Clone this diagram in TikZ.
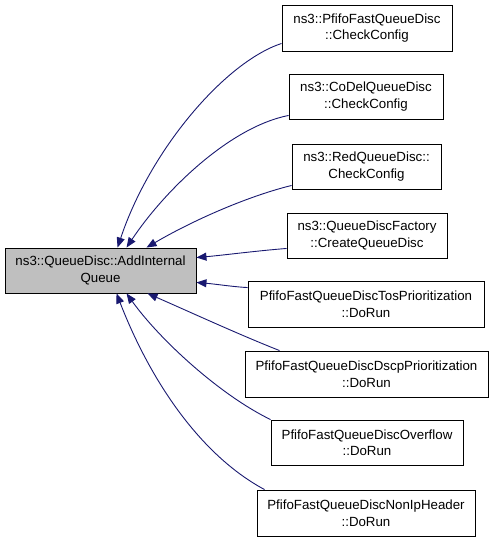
\documentclass[tikz,border=0pt]{standalone}
\usepackage{fontspec}
\setmainfont{Liberation Sans}
\usetikzlibrary{arrows.meta,calc}
\definecolor{edgeblue}{HTML}{191970}
\begin{document}
\begin{tikzpicture}[x=1pt,y=-1pt,
  box/.style={draw=black,line width=0.9pt,fill=white,align=center,inner sep=0pt,
    font=\fontsize{13.3}{16.5}\selectfont},
  mainbox/.style={box,fill=black!25},
  edge/.style={draw=edgeblue,line width=0.9pt,
    -{Triangle[length=10pt,width=8pt]}}]
\useasboundingbox (0,0) rectangle (493,541);
\node[mainbox,minimum width=191pt,minimum height=45pt] (main) at (100.5,270.5) {ns3::QueueDisc::AddInternal\\Queue};
\node[box,minimum width=170pt,minimum height=46pt] (n1) at (367,28) {ns3::PfifoFastQueueDisc\\::CheckConfig};
\node[box,minimum width=154pt,minimum height=45pt] (n2) at (366,96.5) {ns3::CoDelQueueDisc\\::CheckConfig};
\node[box,minimum width=149pt,minimum height=45pt] (n3) at (366.5,166.5) {ns3::RedQueueDisc::\\CheckConfig};
\node[box,minimum width=160pt,minimum height=45pt] (n4) at (367,235.5) {ns3::QueueDiscFactory\\::CreateQueueDisc};
\node[box,minimum width=236pt,minimum height=46pt] (n5) at (366,304) {PfifoFastQueueDiscTosPrioritization\\::DoRun};
\node[box,minimum width=243pt,minimum height=46pt] (n6) at (366.5,374) {PfifoFastQueueDiscDscpPrioritization\\::DoRun};
\node[box,minimum width=192pt,minimum height=45pt] (n7) at (367,442.5) {PfifoFastQueueDiscOverflow\\::DoRun};
\node[box,minimum width=218pt,minimum height=46pt] (n8) at (366,513) {PfifoFastQueueDiscNonIpHeader\\::DoRun};
\draw[edge] ($(n1.south west)+(0,-8)$) .. controls (225,62) and (150,150) .. ($(main.north west)+(113,0)$);
\draw[edge] ($(n2.south west)+(0,-4)$) .. controls (230,127) and (165,190) .. ($(main.north west)+(122,0)$);
\draw[edge] ($(n3.south west)+(0,-4)$) .. controls (245,197) and (190,222) .. ($(main.north west)+(142,0)$);
\draw[edge] ($(n4.south west)+(0,-10)$) .. controls (255,251) and (225,255) .. ($(main.north east)+(0,10)$);
\draw[edge] ($(n5.north west)+(0,7)$) .. controls (235,287) and (215,284) .. ($(main.south east)+(0,-11)$);
\draw[edge] ($(n6.north west)+(35,0)$) .. controls (240,335) and (190,312) .. ($(main.south west)+(143,0)$);
\draw[edge] (n7.north west) .. controls (220,395) and (160,340) .. ($(main.south west)+(122,0)$);
\draw[edge] ($(n8.north west)+(8,0)$) .. controls (200,455) and (150,380) .. ($(main.south west)+(112,0)$);
\end{tikzpicture}
\end{document}
